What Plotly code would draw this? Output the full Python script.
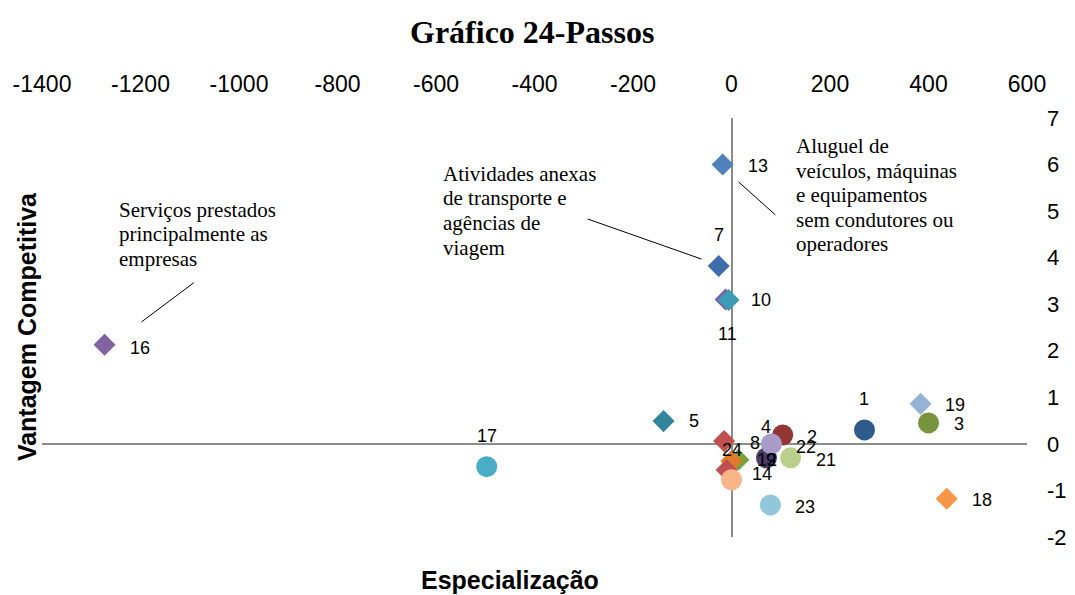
import plotly.graph_objects as go

# ---- data ----
labels = ["16", "17", "5", "13", "7", "11", "10", "1", "19", "3", "18", "23",
          "2", "21", "4", "22", "8", "9", "24", "14", "12"]
especializacao = [-1273, -497, -138, -18, -26, -12, -6, 270, 384, 400, 437, 79,
                  104, 120, 71, 81, -15, 14, 0, -10, 0]
vantagem = [2.13, -0.49, 0.49, 6.0, 3.82, 3.10, 3.09, 0.30, 0.86, 0.45, -1.18, -1.31,
            0.19, -0.30, -0.30, 0.0, 0.06, -0.34, -0.37, -0.56, -0.77]

x_ticks = [-1400, -1200, -1000, -800, -600, -400, -200, 0, 200, 400, 600]
x_tick_text = ["-1400", "-1200", "-1000", "-800", "-600", "-400", "-200", "0", "200", "400", "600"]
y_ticks = [-2, -1, 0, 1, 2, 3, 4, 5, 6, 7]
y_tick_text = ["-2", "-1", "0", "1", "2", "3", "4", "5", "6", "7"]

callouts = [
    ["Serviços prestados", "principalmente as", "empresas"],
    ["Atividades anexas", "de transporte e", "agências de", "viagem"],
    ["Aluguel de", "veículos, máquinas", "e equipamentos", "sem condutores ou", "operadores"],
]
callout_x = [-1247, -589, 126]
callout_y = [5.03, 5.80, 6.40]
leader_x0 = [-1198, -292, 14]
leader_y0 = [2.62, 4.83, 5.63]
leader_x1 = [-1092, -61, 89]
leader_y1 = [3.46, 3.97, 4.92]

# ---- styles ----
symbols = ["diamond", "circle", "diamond", "diamond", "diamond", "diamond", "diamond",
           "circle", "diamond", "circle", "diamond", "circle", "circle", "circle",
           "circle", "circle", "diamond", "diamond", "diamond", "diamond", "circle"]
colors = ["#8064A2", "#4BACC6", "#31859C", "#4F81BD", "#3F6DAA", "#7E5AA6", "#3C9CB5",
          "#2E5A8C", "#95B3D7", "#77933C", "#F79646", "#92C6DB", "#943634", "#B9D08D",
          "#4A3A6A", "#A99BC8", "#C0504D", "#77A33C", "#E07B2D", "#C0504D", "#FAB48A"]
label_dx = [35, 0, 30, 35, 0, 2, 32, 0, 34, 30, 35, 35, 29, 35, 0, 35, 31, 33, 0, 35, 35]
label_dy = [-3, 31, 0, -1, 31, -34, 0, 31, -1, -1, -1, -2, -2, -2, 31, -3, -2, 0, 11, -4, 20]
sizes = [17 if s == "diamond" else 21 for s in symbols]

fig = go.Figure()
fig.add_trace(go.Scatter(
    x=especializacao, y=vantagem, mode="markers",
    marker=dict(symbol=symbols, color=colors, size=sizes, opacity=1, line=dict(width=0)),
    hoverinfo="skip", showlegend=False,
))

annotations = []
for lab, xv, yv, dx, dy in zip(labels, especializacao, vantagem, label_dx, label_dy):
    annotations.append(dict(
        x=xv, y=yv, xref="x", yref="y", text=lab, showarrow=False,
        xshift=dx, yshift=dy, xanchor="center", yanchor="middle",
        font=dict(family="Liberation Sans", size=18, color="#000000"),
    ))

for lines, cx, cy in zip(callouts, callout_x, callout_y):
    for i, line in enumerate(lines):
        annotations.append(dict(
            x=cx, y=cy, xref="x", yref="y", text=line, showarrow=False,
            xanchor="left", yanchor="middle", yshift=-24.6 * i,
            font=dict(family="Liberation Serif", size=21, color="#000000"),
        ))

shapes = []
for x0, y0, x1, y1 in zip(leader_x0, leader_y0, leader_x1, leader_y1):
    shapes.append(dict(type="line", xref="x", yref="y", x0=x0, y0=y0, x1=x1, y1=y1,
                       line=dict(color="#000000", width=1)))

annotations.append(dict(
    x=0.4975, y=1.205, xref="paper", yref="paper", text="<b>Gráfico 24-Passos</b>",
    showarrow=False, xanchor="center", yanchor="middle",
    font=dict(family="Liberation Serif", size=32, color="#000000"),
))
annotations.append(dict(
    x=-0.0152, y=0.501, xref="paper", yref="paper", text="<b>Vantagem Competitiva</b>",
    showarrow=False, xanchor="center", yanchor="middle", textangle=-90,
    font=dict(family="Liberation Sans", size=25, color="#000000"),
))
annotations.append(dict(
    x=0.475, y=-0.103, xref="paper", yref="paper", text="<b>Especialização</b>",
    showarrow=False, xanchor="center", yanchor="middle",
    font=dict(family="Liberation Sans", size=25, color="#000000"),
))

fig.update_layout(
    width=1067, height=587,
    margin=dict(l=34, r=48, t=110, b=58),
    paper_bgcolor="white", plot_bgcolor="white",
    annotations=annotations, shapes=shapes,
    xaxis=dict(range=[-1400, 600], side="top", tickvals=x_ticks, ticktext=x_tick_text,
               showgrid=False, showline=False, ticks="", automargin=False,
               zeroline=True, zerolinecolor="#8C8C8C", zerolinewidth=2,
               ticklabelstandoff=20,
               tickfont=dict(family="Liberation Sans", size=23, color="#000000")),
    yaxis=dict(range=[-2, 7], side="right", tickvals=y_ticks, ticktext=y_tick_text,
               showgrid=False, showline=False, ticks="", automargin=False,
               zeroline=True, zerolinecolor="#8C8C8C", zerolinewidth=2,
               ticklabelstandoff=19,
               tickfont=dict(family="Liberation Sans", size=22, color="#000000")),
)

fig.write_html("out.html")
